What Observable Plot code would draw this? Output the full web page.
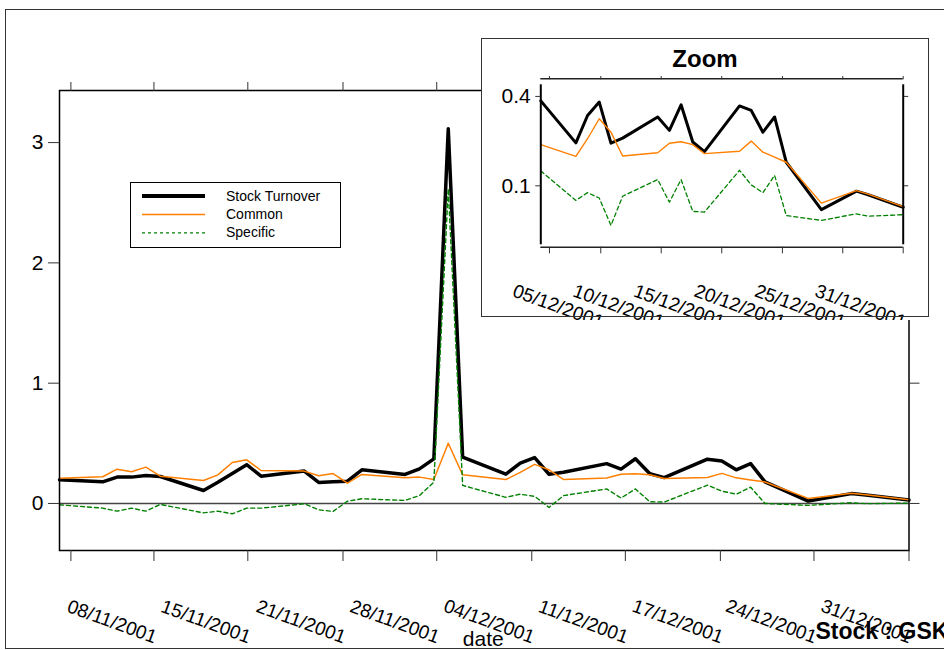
<!DOCTYPE html>
<html>
<head>
<meta charset="utf-8">
<script src="https://cdn.jsdelivr.net/npm/d3@7"></script>
<script src="https://cdn.jsdelivr.net/npm/@observablehq/plot@0.6"></script>
<style>
  html, body { margin: 0; padding: 0; background: #fff; }
  #page { position: relative; width: 944px; height: 650px; overflow: hidden; background: #fff; }
  #main { position: absolute; left: 0; top: 0; }
  #inset { position: absolute; left: 481px; top: 38px; width: 447px; height: 282px; overflow: hidden; background: #fff; }
  #insetBox { position: absolute; left: 481px; top: 38px; width: 446px; height: 277px; border: 1px solid #333; pointer-events: none; }
  #outer { position: absolute; left: 5px; top: 9px; width: 1000px; height: 638px; border: 1px solid #333; pointer-events: none; }
</style>
</head>
<body>
<div id="page">
  <div id="main"></div>
  <div id="inset"></div>
  <div id="insetBox"></div>
  <div id="outer"></div>
</div>
<script>
// Daily GSK turnover decomposition, November–December 2001
const dates = [
  "2001-11-02", "2001-11-05", "2001-11-06", "2001-11-07", "2001-11-08", "2001-11-09",
  "2001-11-12", "2001-11-13", "2001-11-14", "2001-11-15", "2001-11-16",
  "2001-11-19", "2001-11-20", "2001-11-21", "2001-11-22", "2001-11-23",
  "2001-11-26", "2001-11-27", "2001-11-28", "2001-11-29", "2001-11-30",
  "2001-12-03", "2001-12-04", "2001-12-05", "2001-12-06", "2001-12-07",
  "2001-12-10", "2001-12-11", "2001-12-12", "2001-12-13", "2001-12-14",
  "2001-12-17", "2001-12-18", "2001-12-19", "2001-12-20", "2001-12-21",
  "2001-12-24", "2001-12-27", "2001-12-28", "2001-12-31"
];
const stockTurnover = [
  0.197, 0.180, 0.219, 0.219, 0.233, 0.224,
  0.108, 0.177, 0.250, 0.322, 0.227,
  0.269, 0.175, 0.180, 0.185, 0.280,
  0.241, 0.288, 0.371, 3.115, 0.385,
  0.244, 0.336, 0.381, 0.243, 0.260,
  0.331, 0.286, 0.372, 0.247, 0.215,
  0.368, 0.353, 0.280, 0.331, 0.179,
  0.020, 0.082, 0.070, 0.028
];
const common = [
  0.210, 0.222, 0.285, 0.263, 0.302, 0.227,
  0.191, 0.238, 0.341, 0.363, 0.274,
  0.269, 0.230, 0.249, 0.169, 0.241,
  0.214, 0.219, 0.200, 0.501, 0.238,
  0.199, 0.258, 0.325, 0.280, 0.200,
  0.211, 0.243, 0.248, 0.238, 0.208,
  0.216, 0.250, 0.213, 0.196, 0.179,
  0.042, 0.084, 0.072, 0.030
];
const specific = [
  -0.011, -0.039, -0.064, -0.039, -0.064, -0.008,
  -0.078, -0.064, -0.086, -0.039, -0.039,
  -0.003, -0.053, -0.066, 0.019, 0.039,
  0.025, 0.066, 0.177, 2.616, 0.150,
  0.051, 0.077, 0.059, -0.033, 0.065,
  0.121, 0.045, 0.121, 0.014, 0.012,
  0.152, 0.103, 0.077, 0.135, 0.000,
  -0.016, 0.006, -0.002, 0.003
];

// Time axis ticks of the full-period panel and their labels
const mainTickDates = [
  "2001-11-02T19:00Z", "2001-11-08T13:26Z", "2001-11-15T01:55Z", "2001-11-21T16:34Z",
  "2001-11-28T04:48Z", "2001-12-04T19:12Z", "2001-12-11T07:12Z", "2001-12-17T21:36Z",
  "2001-12-24T09:36Z", "2001-12-31T00:00Z"
];
const mainTickLabels = [
  "", "08/11/2001", "15/11/2001", "21/11/2001", "28/11/2001",
  "04/12/2001", "11/12/2001", "17/12/2001", "24/12/2001", "31/12/2001"
];
const mainYTicks = [0, 1, 2, 3];

// Ticks of the zoomed panel (after the spike)
const zoomStart = "2001-11-30";
const zoomTickDates = [
  "2001-11-30T17:46Z", "2001-12-05T03:07Z", "2001-12-10T07:12Z", "2001-12-15T11:31Z",
  "2001-12-20T16:05Z", "2001-12-25T19:55Z", "2001-12-31T00:00Z"
];
const zoomTickLabels = [
  "", "05/12/2001", "10/12/2001", "15/12/2001", "20/12/2001", "25/12/2001", "31/12/2001"
];
const zoomYTicks = [0.1, 0.4];

const seriesNames = ["Stock Turnover", "Common", "Specific"];

const font = '"Liberation Sans", Arial, Helvetica, sans-serif';
const rows = dates.map((d, i) => ({
  date: new Date(d), stock: stockTurnover[i], common: common[i], specific: specific[i]
}));
const mainTicks = mainTickDates.map((d, i) => ({date: new Date(d), label: mainTickLabels[i]}));
const zoomTicks = zoomTickDates.map((d, i) => ({date: new Date(d), label: zoomTickLabels[i]}));
const blank = () => "";

const ORANGE = "#ff8000";
const GREEN = "#008000";
const LABEL_ANGLE = 20;
const LABEL_SIZE = 19;

const mainXDomain = [new Date("2001-11-02"), new Date("2001-12-31")];
const mainYDomain = [-0.391, 3.433];

const main = Plot.plot({
  width: 944,
  height: 650,
  marginLeft: 59,
  marginRight: 35.5,
  marginTop: 90,
  marginBottom: 100,
  style: {fontFamily: font, fontSize: "18px", color: "black", background: "transparent"},
  x: {type: "utc", domain: mainXDomain},
  y: {domain: mainYDomain},
  marks: [
    Plot.ruleY([0], {stroke: "#444", strokeWidth: 1.5}),
    Plot.line(rows, {x: "date", y: "stock", stroke: "black", strokeWidth: 3.5}),
    Plot.line(rows, {x: "date", y: "common", stroke: ORANGE, strokeWidth: 1.5}),
    Plot.line(rows, {x: "date", y: "specific", stroke: GREEN, strokeWidth: 1.4, strokeDasharray: "4,3"}),
    Plot.frame({stroke: "black", strokeWidth: 1.5}),
    Plot.axisX(mainTicks.map(t => t.date), {anchor: "top", tickSize: 9, tickFormat: blank, label: null, stroke: "#333"}),
    Plot.axisX(mainTicks.map(t => t.date), {anchor: "bottom", tickSize: 11, tickFormat: blank, label: null, stroke: "#333"}),
    Plot.axisY(mainYTicks, {anchor: "left", tickSize: 11, tickPadding: 5, tickFormat: d => String(d),
      fontSize: 21, label: null, stroke: "#333"}),
    Plot.axisY(mainYTicks, {anchor: "right", tickSize: 10, tickFormat: blank, label: null, stroke: "#333"}),
    Plot.text(mainTicks, {x: "date", text: "label", frameAnchor: "bottom", dy: 93, rotate: LABEL_ANGLE,
      textAnchor: "end", lineAnchor: "bottom", fontSize: LABEL_SIZE}),
    Plot.text(["date"], {text: d => d, frameAnchor: "bottom", dx: -1, dy: 95, lineAnchor: "bottom", fontSize: 21}),
    Plot.text(["Stock : GSK"], {text: d => d, frameAnchor: "bottom-right", dx: -93.5, dy: 88,
      textAnchor: "start", lineAnchor: "bottom", fontSize: 23, fontWeight: "bold"})
  ]
});

// Legend box in the upper-left of the plot area
const legend = d3.select(main).append("g")
  .attr("font-family", font).attr("font-size", 14).attr("text-anchor", "start");
legend.append("rect")
  .attr("x", 130.5).attr("y", 182.5).attr("width", 210).attr("height", 65)
  .attr("fill", "white").attr("stroke", "black");
const legendStyles = [
  {stroke: "black", width: 4, dash: null},
  {stroke: ORANGE, width: 1.5, dash: null},
  {stroke: GREEN, width: 1.2, dash: "3,3"}
];
seriesNames.forEach((name, i) => {
  const y = 196 + i * 18.4;
  const s = legendStyles[i];
  legend.append("line")
    .attr("x1", 142).attr("x2", 205).attr("y1", y).attr("y2", y)
    .attr("stroke", s.stroke).attr("stroke-width", s.width)
    .attr("stroke-dasharray", s.dash);
  legend.append("text").attr("x", 226).attr("y", y + 4.5).text(name);
});

document.getElementById("main").appendChild(main);

// Zoomed panel covering the period after the spike
const zoomRows = rows.filter(r => r.date >= new Date(zoomStart));
const zoomXDomain = [new Date(zoomStart), new Date("2001-12-31")];
const zoomYDomain = [-0.098, 0.439];

const inset = Plot.plot({
  width: 447,
  height: 282,
  marginLeft: 59.3,
  marginRight: 25.3,
  marginTop: 46.3,
  marginBottom: 75.7,
  style: {fontFamily: font, fontSize: "18px", color: "black", background: "white"},
  x: {type: "utc", domain: zoomXDomain},
  y: {domain: zoomYDomain},
  marks: [
    Plot.line(zoomRows, {x: "date", y: "stock", stroke: "black", strokeWidth: 3}),
    Plot.line(zoomRows, {x: "date", y: "common", stroke: ORANGE, strokeWidth: 1.4}),
    Plot.line(zoomRows, {x: "date", y: "specific", stroke: GREEN, strokeWidth: 1.3, strokeDasharray: "4,3"}),
    Plot.ruleX(zoomXDomain, {stroke: "black", strokeWidth: 2}),
    Plot.ruleY([zoomYDomain[1]], {dy: -6, stroke: "#222", strokeWidth: 1.5}),
    Plot.ruleY([zoomYDomain[0]], {dy: 2.4, stroke: "#222", strokeWidth: 1.5}),
    Plot.axisX(zoomTicks.map(t => t.date), {anchor: "top", tickSize: 3.3, dy: -6, tickFormat: blank, label: null, stroke: "#333"}),
    Plot.axisX(zoomTicks.map(t => t.date), {anchor: "bottom", tickSize: 6.6, dy: 2.4, tickFormat: blank, label: null, stroke: "#333"}),
    Plot.axisY(zoomYTicks, {anchor: "left", tickSize: 5, tickPadding: 5, fontSize: 21, label: null, stroke: "#333"}),
    Plot.axisY(zoomYTicks, {anchor: "right", tickSize: 4.5, tickFormat: blank, label: null, stroke: "#333"}),
    Plot.text(zoomTicks, {x: "date", text: "label", frameAnchor: "bottom", dy: 83.7, rotate: LABEL_ANGLE,
      textAnchor: "end", lineAnchor: "bottom", fontSize: LABEL_SIZE}),
    Plot.text(["Zoom"], {text: d => d, frameAnchor: "top", dx: -17, dy: -17.5, lineAnchor: "bottom",
      fontSize: 24, fontWeight: "bold"})
  ]
});
document.getElementById("inset").appendChild(inset);
</script>
</body>
</html>
